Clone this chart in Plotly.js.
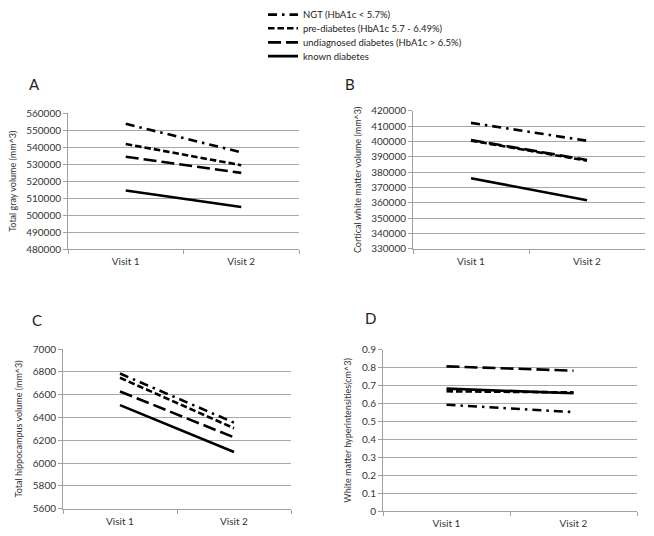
<!DOCTYPE html>
<html>
<head>
<meta charset="utf-8">
<script src="https://cdn.plot.ly/plotly-3.0.1.min.js"></script>
<style>html,body{margin:0;padding:0;background:#fff;}#chart{width:654px;height:536px;}</style>
</head>
<body>
<div id="chart"></div>
<script>
// ---- data ----
var visits = ["Visit 1", "Visit 2"];
var seriesNames = ["NGT (HbA1c < 5.7%)", "pre-diabetes (HbA1c 5.7 - 6.49%)", "undiagnosed diabetes (HbA1c > 6.5%)", "known diabetes"];

// Panel A: Total gray volume (mm^3)
var grayNGT = [553800, 537000];
var grayPre = [541900, 529400];
var grayUndiag = [534400, 524900];
var grayKnown = [514500, 504800];

// Panel B: Cortical white matter volume (mm^3)
var wmNGT = [412200, 400500];
var wmPre = [400600, 387500];
var wmUndiag = [401000, 388000];
var wmKnown = [376000, 361700];

// Panel C: Total hippocampus volume (mm^3)
var hipNGT = [6785, 6355];
var hipPre = [6748, 6306];
var hipUndiag = [6628, 6226];
var hipKnown = [6508, 6098];

// Panel D: White matter hyperintensities (cm^3)
var wmhNGT = [0.593, 0.552];
var wmhPre = [0.668, 0.662];
var wmhUndiag = [0.807, 0.783];
var wmhKnown = [0.683, 0.657];

var panelTitles = ["Total gray volume (mm^3)", "Cortical white matter volume (mm^3)", "Total hippocampus volume (mm^3)", "White matter hyperintensities(cm^3)"];
var panelLetters = ["A", "B", "C", "D"];

// ---- styles ----
var FONT = "Lato, 'Liberation Sans', sans-serif";
var dashes = ["9px,5px,2.5px,5px", "6.5px,3px", "13px,5px", "solid"];
var LW = 2.6;
var legendIds = ["legend", "legend2", "legend3", "legend4"];
var legendRowY = [12.7, 26.3, 40.5, 54.3];

var panels = [
  {vals: [grayNGT, grayPre, grayUndiag, grayKnown], xa: "x", ya: "y"},
  {vals: [wmNGT, wmPre, wmUndiag, wmKnown], xa: "x2", ya: "y2"},
  {vals: [hipNGT, hipPre, hipUndiag, hipKnown], xa: "x3", ya: "y3"},
  {vals: [wmhNGT, wmhPre, wmhUndiag, wmhKnown], xa: "x4", ya: "y4"}
];

var traces = [];
panels.forEach(function(p, pi) {
  p.vals.forEach(function(v, si) {
    traces.push({
      type: "scatter", mode: "lines",
      x: visits, y: v,
      xaxis: p.xa, yaxis: p.ya,
      name: seriesNames[si],
      legendgroup: "s" + si,
      legend: legendIds[si],
      showlegend: pi === 0,
      line: {color: "#000", width: LW, dash: dashes[si]},
      hoverinfo: "skip"
    });
  });
});

var W = 654, H = 536;
function fx(a, b) { return [a / W, b / W]; }
function fy(top, bottom) { return [1 - bottom / H, 1 - top / H]; }

function xAxis(domain, anchor) {
  return {
    domain: domain, anchor: anchor, type: "category",
    range: [-0.5, 1.5], tickson: "boundaries",
    ticks: "outside", ticklen: 4, tickcolor: "#a0a0a0",
    showline: true, linecolor: "#a0a0a0", linewidth: 1,
    showgrid: false, zeroline: false, ticklabelstandoff: 3,
    tickfont: {family: FONT, size: 10, color: "#333"}
  };
}
function yAxis(domain, anchor, range, dtick, title, fmt) {
  var ax = {
    domain: domain, anchor: anchor, range: range, dtick: dtick, tick0: range[0],
    ticks: "outside", ticklen: 4, tickcolor: "#a0a0a0",
    showline: true, linecolor: "#a0a0a0", linewidth: 1,
    showgrid: true, gridcolor: "#a8a8a8", gridwidth: 1,
    zeroline: false,
    tickfont: {family: FONT, size: 10, color: "#333"},
    title: {text: title, font: {family: FONT, size: 9, color: "#333"}, standoff: 8}
  };
  if (fmt) ax.tickformat = fmt;
  return ax;
}

var layout = {
  width: W, height: H,
  margin: {l: 0, r: 0, t: 0, b: 0},
  paper_bgcolor: "#fff", plot_bgcolor: "#fff",
  showlegend: true,
  xaxis: xAxis(fx(68, 299), "y"),
  yaxis: yAxis(fy(111.7, 248), "x", [480000, 560000], 10000, panelTitles[0], "d"),
  xaxis2: xAxis(fx(413, 645), "y2"),
  yaxis2: yAxis(fy(109.3, 247.7), "x2", [330000, 420000], 10000, panelTitles[1], "d"),
  xaxis3: xAxis(fx(63, 291), "y3"),
  yaxis3: yAxis(fy(348.3, 508.7), "x3", [5600, 7000], 200, panelTitles[2], "d"),
  xaxis4: xAxis(fx(383, 637), "y4"),
  yaxis4: yAxis(fy(349, 511), "x4", [0, 0.9], 0.1, panelTitles[3], null),
  annotations: [
    {text: panelLetters[0], x: 34 / W, y: 1 - 82.5 / H},
    {text: panelLetters[1], x: 350 / W, y: 1 - 82 / H},
    {text: panelLetters[2], x: 37 / W, y: 1 - 319 / H},
    {text: panelLetters[3], x: 370 / W, y: 1 - 317.5 / H}
  ].map(function(a) {
    a.xref = "paper"; a.yref = "paper"; a.showarrow = false;
    a.xanchor = "center"; a.yanchor = "middle";
    a.font = {family: FONT, size: 15, color: "#222"};
    return a;
  })
};

legendIds.forEach(function(id, i) {
  layout[id] = {
    x: 263 / W, y: 1 - legendRowY[i] / H, xanchor: "left", yanchor: "middle",
    font: {family: FONT, size: 9.5, color: "#222"},
    bgcolor: "rgba(0,0,0,0)", borderwidth: 0, itemwidth: 30
  };
});

Plotly.newPlot("chart", traces, layout, {displayModeBar: false, staticPlot: true});
</script>
</body>
</html>
